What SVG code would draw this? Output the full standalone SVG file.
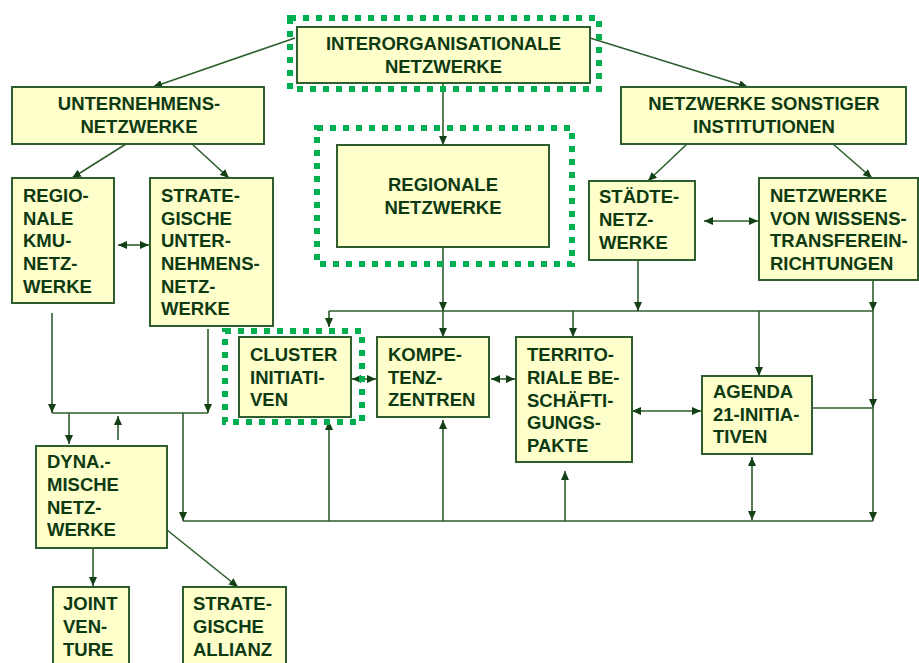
<svg xmlns="http://www.w3.org/2000/svg" width="919" height="663" viewBox="0 0 919 663">
<style>
.box{fill:#FFFFCC;stroke:#2E5E2E;stroke-width:2}
.t{font-family:"Liberation Sans",Arial,sans-serif;font-weight:bold;font-size:18.5px;fill:#0E3A12}
.c{text-anchor:middle}
.dot{fill:none;stroke:#00B050;stroke-width:6;stroke-dasharray:6 7}
.ln{fill:none;stroke:#2E5E2E;stroke-width:1.6}
.ar{marker-end:url(#a)}
.dbl{marker-start:url(#a);marker-end:url(#a)}
</style>
<defs>
<marker id="a" markerUnits="userSpaceOnUse" markerWidth="10" markerHeight="8" refX="9" refY="4" orient="auto-start-reverse">
<path d="M0,0 L9,4 L0,8 z" fill="#123F14"/>
</marker>
</defs>
<rect width="919" height="663" fill="#FFFFFF"/>

<g id="connectors">
<line class="ln ar" x1="295" y1="38" x2="153" y2="87"/>
<line class="ln ar" x1="590" y1="38" x2="748" y2="87"/>
<line class="ln ar" x1="443" y1="83" x2="443" y2="145"/>
<line class="ln ar" x1="126" y1="144" x2="72" y2="178"/>
<line class="ln ar" x1="192" y1="144" x2="229" y2="178"/>
<line class="ln ar" x1="687" y1="144" x2="648" y2="181"/>
<line class="ln ar" x1="833" y1="144" x2="872" y2="178"/>
<line class="ln dbl" x1="118" y1="245" x2="149" y2="245"/>
<line class="ln dbl" x1="704" y1="221" x2="758" y2="221"/>
<line class="ln ar" x1="443" y1="247" x2="443" y2="311"/>
<line class="ln ar" x1="443" y1="311" x2="443" y2="337"/>
<polyline class="ln" points="329,311 873,311"/>
<line class="ln ar" x1="329" y1="311" x2="329" y2="327"/>
<line class="ln ar" x1="573" y1="311" x2="573" y2="337"/>
<line class="ln ar" x1="638" y1="260" x2="638" y2="311"/>
<line class="ln ar" x1="873" y1="280" x2="873" y2="311"/>
<line class="ln ar" x1="873" y1="311" x2="873" y2="408"/>
<line class="ln ar" x1="873" y1="408" x2="873" y2="521"/>
<line class="ln ar" x1="759" y1="311" x2="759" y2="376"/>
<line class="ln" x1="808" y1="408" x2="873" y2="408"/>
<line class="ln dbl" x1="632" y1="411" x2="701" y2="411"/>
<line class="ln dbl" x1="352" y1="379" x2="376" y2="379"/>
<line class="ln dbl" x1="491" y1="379" x2="515" y2="379"/>
<line class="ln" x1="183" y1="521" x2="873" y2="521"/>
<line class="ln ar" x1="183" y1="413" x2="183" y2="521"/>
<line class="ln ar" x1="52" y1="313" x2="52" y2="413"/>
<line class="ln ar" x1="208" y1="329" x2="208" y2="413"/>
<line class="ln" x1="52" y1="413" x2="208" y2="413"/>
<line class="ln ar" x1="69" y1="413" x2="69" y2="444"/>
<line class="ln ar" x1="118" y1="440" x2="118" y2="416"/>
<line class="ln ar" x1="329" y1="521" x2="329" y2="421"/>
<line class="ln ar" x1="443" y1="521" x2="443" y2="420"/>
<line class="ln ar" x1="565" y1="521" x2="565" y2="471"/>
<line class="ln dbl" x1="752" y1="457" x2="752" y2="520"/>
<line class="ln ar" x1="93" y1="548" x2="93" y2="586"/>
<line class="ln ar" x1="167" y1="530" x2="238" y2="587"/>
</g>

<g id="interorganisationale">
<rect class="dot" x="290" y="18" width="309" height="71"/>
<rect class="box" x="297" y="27" width="293" height="56"/>
<text class="t c" x="443.5" y="50">INTERORGANISATIONALE</text>
<text class="t c" x="443.5" y="73">NETZWERKE</text>
</g>

<g id="unternehmensnetzwerke">
<rect class="box" x="12" y="87" width="252" height="57"/>
<text class="t c" x="139" y="110">UNTERNEHMENS-</text>
<text class="t c" x="139" y="133">NETZWERKE</text>
</g>

<g id="sonstige">
<rect class="box" x="621" y="87" width="285" height="57"/>
<text class="t c" x="764" y="110">NETZWERKE SONSTIGER</text>
<text class="t c" x="764" y="133">INSTITUTIONEN</text>
</g>

<g id="regionale">
<rect class="dot" x="317" y="128" width="255" height="136"/>
<rect class="box" x="337" y="145" width="212" height="102"/>
<text class="t c" x="443" y="191">REGIONALE</text>
<text class="t c" x="443" y="214">NETZWERKE</text>
</g>

<g id="kmu">
<rect class="box" x="12" y="178" width="102" height="125"/>
<text class="t" x="23" y="202">REGIO-</text>
<text class="t" x="23" y="224.5">NALE</text>
<text class="t" x="23" y="247">KMU-</text>
<text class="t" x="23" y="270">NETZ-</text>
<text class="t" x="23" y="292.5">WERKE</text>
</g>

<g id="strategische">
<rect class="box" x="150" y="178" width="123" height="148"/>
<text class="t" x="161" y="202">STRATE-</text>
<text class="t" x="161" y="224.5">GISCHE</text>
<text class="t" x="161" y="247">UNTER-</text>
<text class="t" x="161" y="270">NEHMENS-</text>
<text class="t" x="161" y="292.5">NETZ-</text>
<text class="t" x="161" y="315">WERKE</text>
</g>

<g id="staedte">
<rect class="box" x="589" y="181" width="106" height="79"/>
<text class="t" x="599" y="203">STÄDTE-</text>
<text class="t" x="599" y="226">NETZ-</text>
<text class="t" x="599" y="249">WERKE</text>
</g>

<g id="wissenstransfer">
<rect class="box" x="759" y="178" width="159" height="102"/>
<text class="t" x="770" y="202">NETZWERKE</text>
<text class="t" x="770" y="224.5">VON WISSENS-</text>
<text class="t" x="770" y="247">TRANSFEREIN-</text>
<text class="t" x="770" y="269.5">RICHTUNGEN</text>
</g>

<g id="cluster">
<rect class="dot" x="225" y="331" width="137" height="91"/>
<rect class="box" x="239" y="337" width="112" height="80"/>
<text class="t" x="250" y="361">CLUSTER</text>
<text class="t" x="250" y="384">INITIATI-</text>
<text class="t" x="250" y="406">VEN</text>
</g>

<g id="kompetenz">
<rect class="box" x="377" y="337" width="112" height="80"/>
<text class="t" x="388" y="361">KOMPE-</text>
<text class="t" x="388" y="384">TENZ-</text>
<text class="t" x="388" y="406">ZENTREN</text>
</g>

<g id="territoriale">
<rect class="box" x="516" y="337" width="116" height="125"/>
<text class="t" x="527" y="361">TERRITO-</text>
<text class="t" x="527" y="384">RIALE BE-</text>
<text class="t" x="527" y="406.5">SCHÄFTI-</text>
<text class="t" x="527" y="429">GUNGS-</text>
<text class="t" x="527" y="451.5">PAKTE</text>
</g>

<g id="agenda">
<rect class="box" x="702" y="376" width="110" height="78"/>
<text class="t" x="713" y="398">AGENDA</text>
<text class="t" x="713" y="421">21-INITIA-</text>
<text class="t" x="713" y="443">TIVEN</text>
</g>

<g id="dynamische">
<rect class="box" x="36" y="446" width="131" height="102"/>
<text class="t" x="47" y="468">DYNA.-</text>
<text class="t" x="47" y="491">MISCHE</text>
<text class="t" x="47" y="514">NETZ-</text>
<text class="t" x="47" y="536">WERKE</text>
</g>

<g id="jointventure">
<rect class="box" x="53" y="587" width="76" height="82"/>
<text class="t" x="63" y="610">JOINT</text>
<text class="t" x="63" y="633">VEN-</text>
<text class="t" x="63" y="656">TURE</text>
</g>

<g id="allianz">
<rect class="box" x="183" y="587" width="103" height="82"/>
<text class="t" x="193" y="610">STRATE-</text>
<text class="t" x="193" y="633">GISCHE</text>
<text class="t" x="193" y="656">ALLIANZ</text>
</g>
</svg>
